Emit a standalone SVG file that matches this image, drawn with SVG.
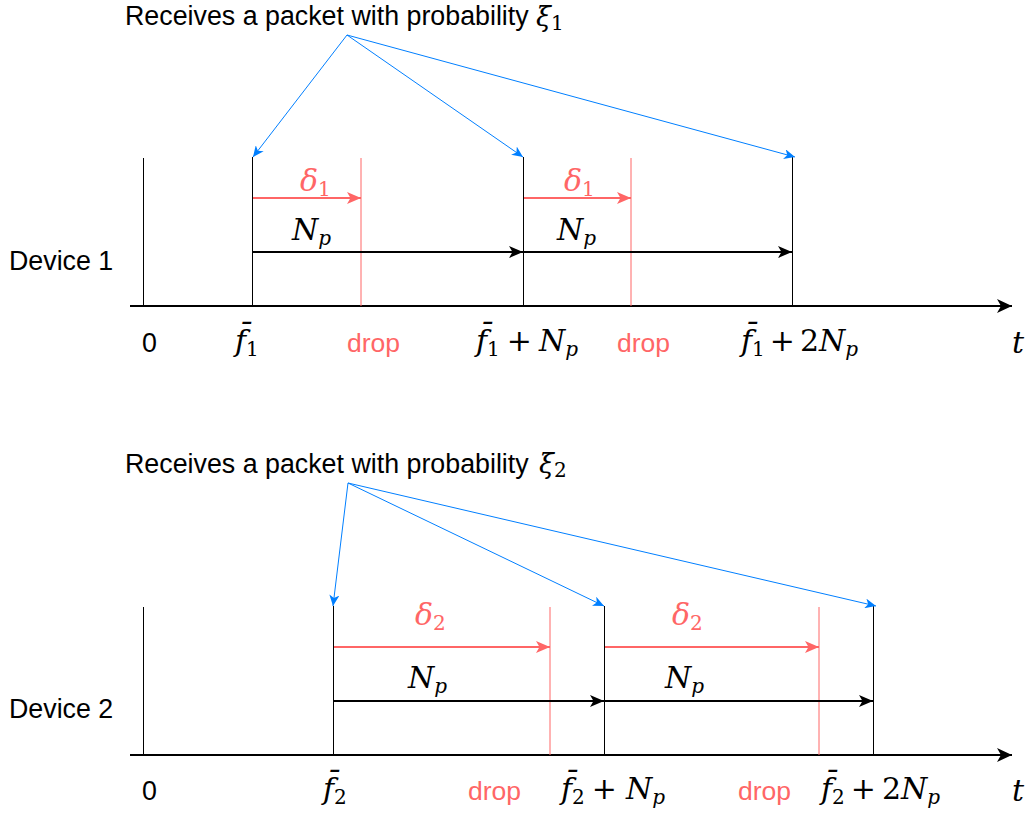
<svg xmlns="http://www.w3.org/2000/svg" width="1029" height="816" viewBox="0 0 1029 816">
<style>
.lbl{font-family:"Liberation Sans",Arial,sans-serif;font-size:26.8px;fill:#000}
.drop{font-family:"Liberation Sans",Arial,sans-serif;font-size:26.5px;fill:#FF6666}
.m{font-family:"DejaVu Serif","Liberation Serif",serif;font-size:30px;font-style:italic;fill:#000}
.m .s{font-size:20px;font-style:normal}
.m .si{font-size:20px;font-style:italic}
.m .r{font-style:normal}
.xi{font-size:27px}
.red{fill:#FF6666}
.tick{stroke:#000;stroke-width:1;fill:none}
.rtick{stroke:#FF6666;stroke-width:1;fill:none}
.axis{stroke:#000;stroke-width:2;fill:none}
.np{stroke:#000;stroke-width:2;fill:none;marker-end:url(#ab)}
.dl{stroke:#FF6666;stroke-width:2;fill:none;marker-end:url(#ar)}
.bl{stroke:#007FFF;stroke-width:1;fill:none;marker-end:url(#abl)}
</style>
<defs>
<marker id="ab" markerUnits="userSpaceOnUse" markerWidth="15" markerHeight="12" refX="14" refY="6" orient="auto"><path d="M0,0 L14,6 L0,12 L3.5,6 Z" fill="#000"/></marker>
<marker id="ar" markerUnits="userSpaceOnUse" markerWidth="15" markerHeight="12" refX="14" refY="6" orient="auto"><path d="M0,0 L14,6 L0,12 L3.5,6 Z" fill="#FF6666"/></marker>
<marker id="ax" markerUnits="userSpaceOnUse" markerWidth="16" markerHeight="14" refX="15" refY="7" orient="auto"><path d="M0,0 L15,7 L0,14 L4,7 Z" fill="#000"/></marker>
<marker id="abl" markerUnits="userSpaceOnUse" markerWidth="12" markerHeight="10" refX="11" refY="5" orient="auto"><path d="M0,0 L11,5 L0,10 L3,5 Z" fill="#007FFF"/></marker>
</defs>

<rect width="1029" height="816" fill="#fff"/>

<!-- Device 1 -->
<g id="device1">
  <g id="d1-title">
    <text class="lbl" x="125" y="25">Receives a packet with probability</text>
    <text class="m xi" x="536" y="26">ξ<tspan class="s" dy="4">1</tspan></text>
  </g>
  <g id="d1-name"><text class="lbl" x="9" y="270">Device 1</text></g>
  <g id="d1-axis"><line class="axis" x1="130" y1="306" x2="1012" y2="306" marker-end="url(#ax)"/></g>
  <g id="d1-ticks">
    <line class="tick" x1="143.5" y1="158" x2="143.5" y2="306"/>
    <line class="tick" x1="252.5" y1="157" x2="252.5" y2="306"/>
    <line class="tick" x1="523.5" y1="157" x2="523.5" y2="306"/>
    <line class="tick" x1="792.5" y1="157" x2="792.5" y2="306"/>
    <line class="rtick" x1="361" y1="158" x2="361" y2="306"/>
    <line class="rtick" x1="631" y1="158" x2="631" y2="306"/>
  </g>
  <g id="d1-labels">
    <text class="lbl" x="142" y="352">0</text>
    <text class="drop" x="347" y="352">drop</text>
    <text class="drop" x="617" y="352">drop</text>
    <text class="m" x="235" y="351">f&#x304;<tspan class="s" dy="5">1</tspan></text>
    <text class="m" x="476" y="351">f&#x304;<tspan class="s" dy="5">1</tspan><tspan class="r" dx="7" dy="-5">+</tspan><tspan dx="7">N</tspan><tspan class="si" dy="5">p</tspan></text>
    <text class="m" x="741" y="351">f&#x304;<tspan class="s" dy="5">1</tspan><tspan class="r" dx="5" dy="-5">+</tspan><tspan class="r" dx="5">2</tspan><tspan>N</tspan><tspan class="si" dy="5">p</tspan></text>
    <text class="m" x="1012" y="353">t</text>
    <text class="m red" x="300" y="191">δ<tspan class="s" dy="5">1</tspan></text>
    <text class="m red" x="564" y="191">δ<tspan class="s" dy="5">1</tspan></text>
    <text class="m" x="292" y="240">N<tspan class="si" dy="5">p</tspan></text>
    <text class="m" x="557" y="240">N<tspan class="si" dy="5">p</tspan></text>
  </g>
</g>

<!-- Device 2 -->
<g id="device2">
  <g id="d2-title">
    <text class="lbl" x="125" y="473">Receives a packet with probability</text>
    <text class="m xi" x="539" y="473">ξ<tspan class="s" dy="4">2</tspan></text>
  </g>
  <g id="d2-name"><text class="lbl" x="9" y="718">Device 2</text></g>
  <g id="d2-axis"><line class="axis" x1="130" y1="755" x2="1012" y2="755" marker-end="url(#ax)"/></g>
  <g id="d2-ticks">
    <line class="tick" x1="143.5" y1="607" x2="143.5" y2="755"/>
    <line class="tick" x1="333.5" y1="606" x2="333.5" y2="755"/>
    <line class="tick" x1="604.5" y1="606" x2="604.5" y2="755"/>
    <line class="tick" x1="873.5" y1="606" x2="873.5" y2="755"/>
    <line class="rtick" x1="550" y1="607" x2="550" y2="755"/>
    <line class="rtick" x1="819" y1="607" x2="819" y2="755"/>
  </g>
  <g id="d2-labels">
    <text class="lbl" x="142" y="800">0</text>
    <text class="drop" x="468" y="800">drop</text>
    <text class="drop" x="738" y="800">drop</text>
    <text class="m" x="323" y="799">f&#x304;<tspan class="s" dy="5">2</tspan></text>
    <text class="m" x="561" y="799">f&#x304;<tspan class="s" dy="5">2</tspan><tspan class="r" dx="7" dy="-5">+</tspan><tspan dx="9">N</tspan><tspan class="si" dy="5">p</tspan></text>
    <text class="m" x="821" y="799">f&#x304;<tspan class="s" dy="5">2</tspan><tspan class="r" dx="6" dy="-5">+</tspan><tspan class="r" dx="6">2</tspan><tspan>N</tspan><tspan class="si" dy="5">p</tspan></text>
    <text class="m" x="1012" y="801">t</text>
    <text class="m red" x="415" y="625">δ<tspan class="s" dy="5">2</tspan></text>
    <text class="m red" x="672" y="625">δ<tspan class="s" dy="5">2</tspan></text>
    <text class="m" x="408" y="688">N<tspan class="si" dy="5">p</tspan></text>
    <text class="m" x="665" y="688">N<tspan class="si" dy="5">p</tspan></text>
  </g>
</g>

<g id="connectors">
  <line class="dl" x1="253" y1="198" x2="361" y2="198"/>
  <line class="dl" x1="524" y1="198" x2="631" y2="198"/>
  <line class="np" x1="253" y1="252" x2="523" y2="252"/>
  <line class="np" x1="524" y1="252" x2="792" y2="252"/>
  <line class="bl" x1="347" y1="35" x2="253" y2="157"/>
  <line class="bl" x1="347" y1="35" x2="523" y2="157"/>
  <line class="bl" x1="347" y1="35" x2="795" y2="157"/>

  <line class="dl" x1="334" y1="647" x2="550" y2="647"/>
  <line class="dl" x1="605" y1="647" x2="819" y2="647"/>
  <line class="np" x1="334" y1="701" x2="604" y2="701"/>
  <line class="np" x1="605" y1="701" x2="873" y2="701"/>
  <line class="bl" x1="348" y1="483" x2="333" y2="606"/>
  <line class="bl" x1="348" y1="483" x2="604" y2="606"/>
  <line class="bl" x1="348" y1="483" x2="876" y2="606"/>
</g>
</svg>
